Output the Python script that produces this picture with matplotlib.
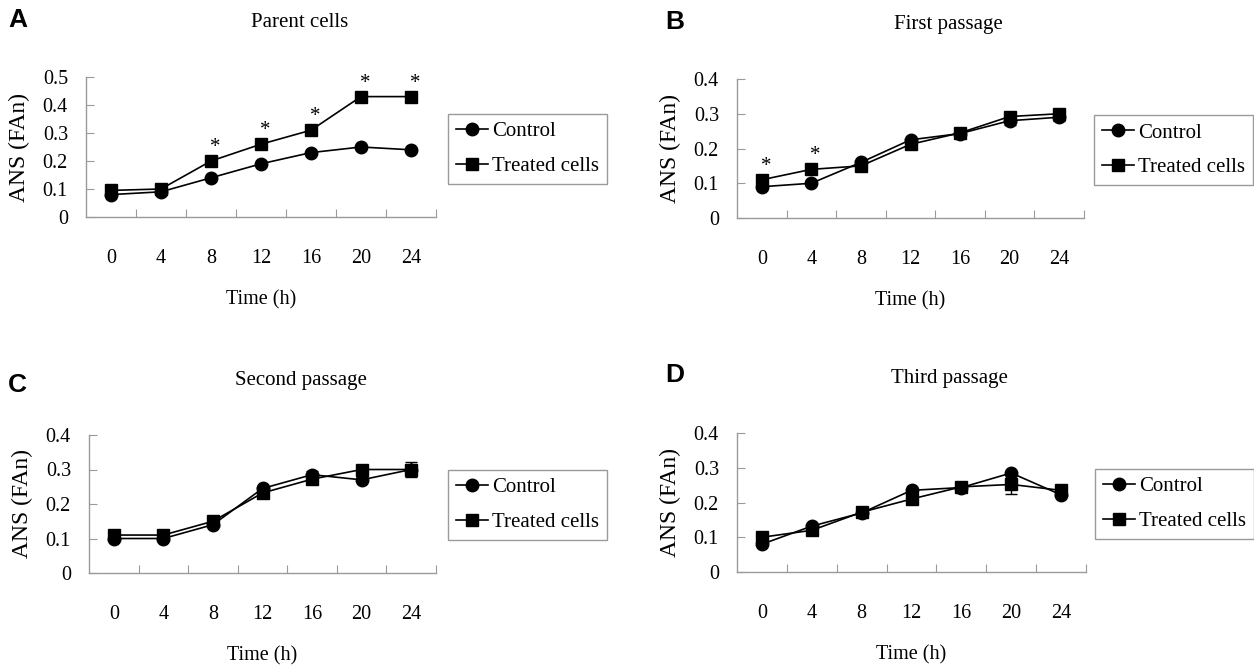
import numpy as np
import matplotlib
matplotlib.use("Agg")
import matplotlib.pyplot as plt

plt.rcParams['font.family'] = ['Liberation Serif', 'DejaVu Serif']

hours = ['0', '4', '8', '12', '16', '20', '24']

# panel A - parent cells
parent_control = [0.08, 0.09, 0.14, 0.19, 0.23, 0.25, 0.24]
parent_treated = [0.095, 0.10, 0.20, 0.26, 0.31, 0.43, 0.43]
parent_star = [2, 3, 4, 5, 6]

# panel B - first passage
first_control = [0.09, 0.10, 0.16, 0.225, 0.243, 0.28, 0.29]
first_treated = [0.11, 0.14, 0.15, 0.212, 0.245, 0.292, 0.30]
first_control_err = [0, 0, 0, 0, 0, 0.012, 0.01]
first_treated_err = [0, 0, 0, 0, 0, 0, 0]
first_star = [0, 1]

# panel C - second passage
second_control = [0.10, 0.10, 0.14, 0.245, 0.285, 0.27, 0.30]
second_treated = [0.11, 0.11, 0.15, 0.232, 0.272, 0.30, 0.30]
second_control_err = [0, 0, 0, 0, 0.01, 0, 0]
second_treated_err = [0, 0, 0, 0, 0, 0.012, 0.022]

# panel D - third passage
third_control = [0.08, 0.132, 0.17, 0.235, 0.243, 0.285, 0.222]
third_treated = [0.10, 0.12, 0.172, 0.21, 0.245, 0.252, 0.235]
third_control_err = [0, 0, 0, 0, 0, 0, 0]
third_treated_err = [0, 0, 0, 0, 0, 0.027, 0]

W, H = 1254, 668
fig = plt.figure(figsize=(W / 100, H / 100), dpi=100)

grey = '#9a9a9a'


def px_axes(left, top, right, bottom):
    return fig.add_axes([left / W, 1 - bottom / H, (right - left) / W, (bottom - top) / H])


def draw_panel(ax, letter, title, ctrl, treat, ymax, ctrl_err=None, treat_err=None,
               stars=(), legend_xy=(0, 0), letter_xy=(0, 0)):
    x = np.arange(len(hours))
    if ctrl_err is not None:
        ax.errorbar(x, ctrl, yerr=ctrl_err, fmt='none', ecolor='black',
                    capsize=4, elinewidth=1.0, capthick=1.0, zorder=2)
    if treat_err is not None:
        ax.errorbar(x, treat, yerr=treat_err, fmt='none', ecolor='black',
                    capsize=4, elinewidth=1.0, capthick=1.0, zorder=2)
    ax.plot(x, ctrl, color='black', lw=1.2, marker='o', ms=9, label='Control', zorder=3)
    ax.plot(x, treat, color='black', lw=1.2, marker='s', ms=9, label='Treated cells', zorder=3)
    for i in stars:  # significance marks
        ax.annotate('*', (x[i], treat[i]), xytext=(3, 6.5), textcoords='offset points',
                    ha='center', va='baseline', fontsize=15)

    ax.set_xlim(-0.5, len(hours) - 0.5)
    ax.set_ylim(0, ymax)
    yt = np.round(np.arange(0, ymax + 0.001, 0.1), 1)
    ax.set_yticks(yt)
    ax.set_yticklabels(['0'] + ['%.1f' % v for v in yt[1:]], fontsize=14.5)
    # ticks between categories, labels at category centres
    ax.set_xticks(np.arange(0.5, len(hours) - 0.5 + 0.01, 1.0))
    ax.set_xticklabels([])
    ax.set_xticks(x, minor=True)
    ax.set_xticklabels(hours, minor=True, fontsize=14.5)
    ax.tick_params(axis='x', which='minor', length=0, pad=23)
    ax.tick_params(axis='x', which='major', direction='in', length=6, color=grey)
    ax.tick_params(axis='y', direction='in', length=6, color=grey, pad=13)

    for s in ['top', 'right']:
        ax.spines[s].set_visible(False)
    for s in ['left', 'bottom']:
        ax.spines[s].set_color(grey)
        ax.spines[s].set_linewidth(1.0)

    ax.set_xlabel('Time (h)', fontsize=14.5, labelpad=16)
    ax.set_ylabel('ANS (FAn)', fontsize=17, labelpad=9)
    ax.set_title(title, fontsize=15, pad=36, x=0.61)

    leg = ax.legend(loc='upper left', bbox_to_anchor=(legend_xy[0] / W, 1 - legend_xy[1] / H),
                    bbox_transform=fig.transFigure, borderaxespad=0, fontsize=15,
                    fancybox=False, handlelength=1.55, handletextpad=0.2,
                    labelspacing=0.72, borderpad=0.38, framealpha=1)
    leg.get_frame().set_edgecolor(grey)
    leg.get_frame().set_linewidth(1.0)

    fig.text(letter_xy[0] / W, 1 - letter_xy[1] / H, letter, fontsize=19, fontweight='bold',
             family='Liberation Sans', ha='left', va='center')


axA = px_axes(86, 77, 436, 217)
draw_panel(axA, 'A', 'Parent cells', parent_control, parent_treated, 0.5,
           stars=parent_star, legend_xy=(448, 114), letter_xy=(8, 20))

axB = px_axes(737, 79, 1084, 218)
draw_panel(axB, 'B', 'First passage', first_control, first_treated, 0.4,
           first_control_err, first_treated_err, stars=first_star,
           legend_xy=(1094, 115), letter_xy=(665, 22))

axC = px_axes(89, 435, 436, 573)
draw_panel(axC, 'C', 'Second passage', second_control, second_treated, 0.4,
           second_control_err, second_treated_err,
           legend_xy=(448, 470), letter_xy=(8, 385))

axD = px_axes(737, 433, 1086, 572)
draw_panel(axD, 'D', 'Third passage', third_control, third_treated, 0.4,
           third_control_err, third_treated_err,
           legend_xy=(1095, 469), letter_xy=(665, 375))

fig.savefig('out.png', dpi=100)
